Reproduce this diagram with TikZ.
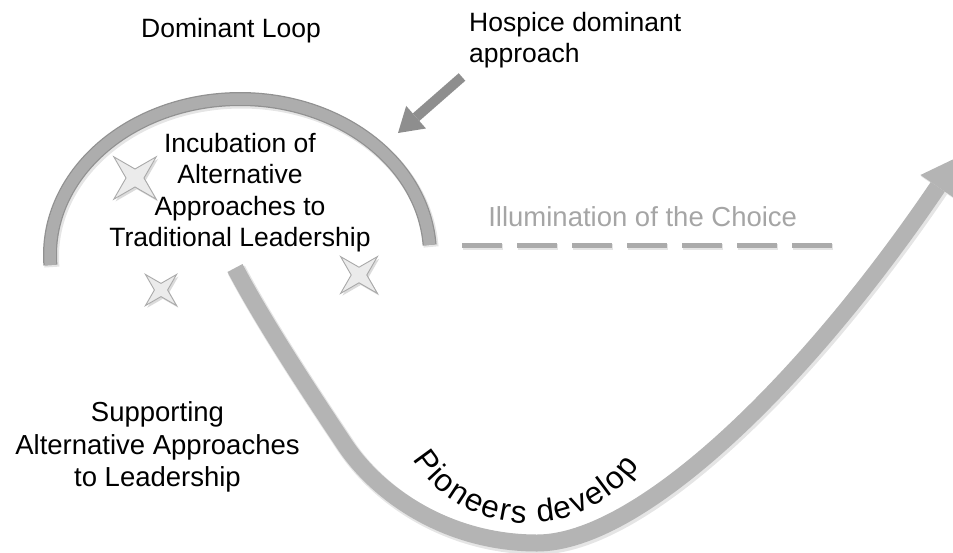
\documentclass[tikz,border=0pt]{standalone}
\usepackage{fontspec}
\setmainfont{Liberation Sans}
\usetikzlibrary{arrows.meta,decorations.text}

\definecolor{bandgray}{HTML}{B4B4B4}
\definecolor{arcfill}{HTML}{ADADAD}
\definecolor{arcedge}{HTML}{919191}
\definecolor{pointergray}{HTML}{8E8E8E}
\definecolor{dashgray}{HTML}{ABABAB}
\definecolor{softtext}{HTML}{A5A5A5}
\definecolor{starfill}{HTML}{EBEBEB}
\definecolor{staredge}{HTML}{A9A9A9}

\tikzset{
  lbl/.style={font=\fontsize{26.5}{31.5}\selectfont, align=center, inner sep=0pt, anchor=base},
  % four-pointed sparkle of outer radius #1
  pics/sparkle/.style={code={
    \fill[black!14, shift={(1.8,-2.2)}]
      (45:#1) -- (90:0.3*#1) -- (135:#1) -- (180:0.3*#1) -- (225:#1)
      -- (270:0.3*#1) -- (315:#1) -- (0:0.3*#1) -- cycle;
    \filldraw[fill=starfill, draw=staredge, line width=0.9pt, line join=miter]
      (45:#1) -- (90:0.3*#1) -- (135:#1) -- (180:0.3*#1) -- (225:#1)
      -- (270:0.3*#1) -- (315:#1) -- (0:0.3*#1) -- cycle;
  }}
}

\begin{document}
\begin{tikzpicture}[x=1pt,y=1pt]
\useasboundingbox (0,0) rectangle (953,-552);

% ---------- labels (multi-line nodes sit on their last baseline) ----------
\node[lbl] (dominant) at (231,-37) {Dominant Loop};
\node[lbl, align=left, anchor=base west] (hospice) at (469,-62.7) {Hospice dominant\\approach};
\node[lbl] (incubation) at (240,-246.7) {Incubation of\\Alternative\\Approaches to\\Traditional Leadership};
\node[lbl, font=\fontsize{27.5}{32.5}\selectfont] (supporting) at (157.5,-486.7) {Supporting\\Alternative Approaches\\to Leadership};
\node[lbl, font=\fontsize{27.5}{32.5}\selectfont, text=softtext] (illumination) at (642.7,-226.7) {Illumination of the Choice};

% ---------- dominant loop arc ----------
\coordinate (loopc) at (240,-255);
\draw[black!10, line width=15pt] ([shift={(1.5,-2)}]loopc) ++(183.7:190 and 156)
  arc[start angle=183.7, end angle=3.7, x radius=190, y radius=156];
\draw[arcedge, line width=14pt] (loopc) ++(183.7:190 and 156)
  arc[start angle=183.7, end angle=3.7, x radius=190, y radius=156];
\draw[arcfill, line width=11.5pt] (loopc) ++(183.7:190 and 156)
  arc[start angle=183.7, end angle=3.7, x radius=190, y radius=156];

% ---------- hospice pointer ----------
\coordinate (ptail) at (462,-77);
\coordinate (ptip) at (398,-133);
\draw[pointergray, line width=10pt,
  -{Triangle[length=24pt, width=30pt, line width=0pt]}] (ptail) -- (ptip);

% ---------- sparkles ----------
\pic at (135,-178) {sparkle=30};
\pic at (161,-290) {sparkle=22};
\pic at (359,-275) {sparkle=26};

% ---------- illumination dashes ----------
\coordinate (dashL) at (462,-245);
\coordinate (dashR) at (832,-245);
\draw[black!10, line width=6pt, dash pattern=on 40pt off 15pt] ([shift={(1,-1.5)}]dashL) -- ([shift={(1,-1.5)}]dashR);
\draw[dashgray, line width=5pt, dash pattern=on 40pt off 15pt] (dashL) -- (dashR);

% ---------- pioneers path ----------
\coordinate (sstart) at (235,-268);
\coordinate (sbend) at (345,-445);
\coordinate (sbottom) at (537,-543);
\coordinate (stip) at (958,-157);
\draw[black!10, line width=19pt, -{Triangle[length=36pt, width=44pt, line width=0pt]}]
  ([shift={(1.5,-2)}]sstart) .. controls ([shift={(1.5,-2)}]265,-325) and ([shift={(1.5,-2)}]315,-400) .. ([shift={(1.5,-2)}]sbend)
  .. controls ([shift={(1.5,-2)}]380,-497) and ([shift={(1.5,-2)}]450,-543) .. ([shift={(1.5,-2)}]sbottom)
  .. controls ([shift={(1.5,-2)}]637,-543) and ([shift={(1.5,-2)}]800,-390) .. ([shift={(1.5,-2)}]stip);
\draw[bandgray, line width=17pt, -{Triangle[length=36pt, width=42pt, line width=0pt]}]
  (sstart) .. controls (265,-325) and (315,-400) .. (sbend)
  .. controls (380,-497) and (450,-543) .. (sbottom)
  .. controls (637,-543) and (800,-390) .. (stip);

% text following the bottom of the curve, each letter padded a little
\coordinate (textc) at (528,-387);
\path[decorate, decoration={text along path,
    text={|\fontsize{31.5}{31.5}\selectfont\kern1.6pt|Pioneers develop}, text align={center}}]
  (textc) ++(198:136) arc[start angle=198, end angle=338, radius=136];

\end{tikzpicture}
\end{document}
